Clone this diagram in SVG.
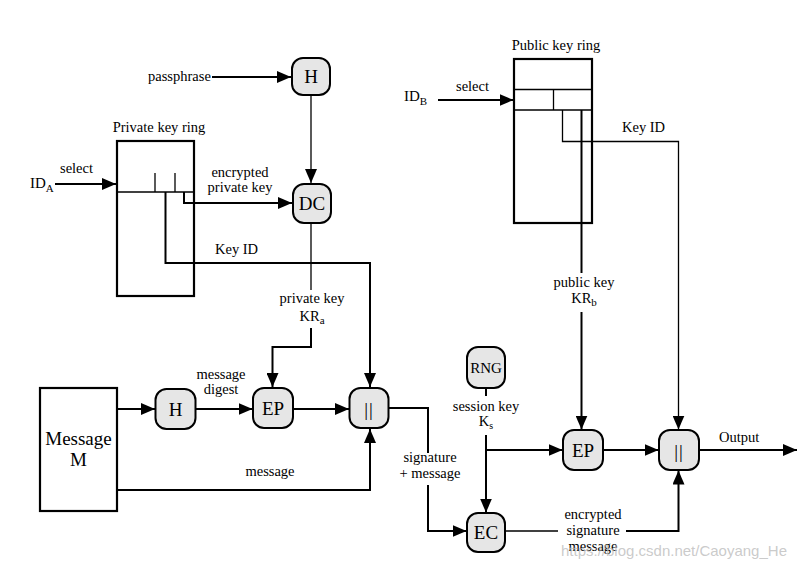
<svg xmlns="http://www.w3.org/2000/svg" width="809" height="569" viewBox="0 0 809 569">
<style>
text{font-family:'Liberation Serif','DejaVu Serif',serif;fill:#000}
.lbl{font-size:14.5px}
.nl{font-size:19px;text-anchor:middle}
.node{fill:#e6e6e6;stroke:#000;stroke-width:2}
.box{fill:#fff;stroke:#000;stroke-width:2.2}
.c{fill:none;stroke:#000;stroke-width:2}
.t{fill:none;stroke:#000;stroke-width:1.3}
.mid{text-anchor:middle}
.wm{font-family:'Liberation Sans','DejaVu Sans',sans-serif;font-size:15px;fill:#bdbdbd;fill-opacity:0.8}
</style>
<defs>
<marker id="ah" markerUnits="userSpaceOnUse" markerWidth="14" markerHeight="12" refX="14" refY="6" orient="auto">
<path d="M0,0 L14,6 L0,12 z" fill="#000"/>
</marker>
</defs>
<rect width="809" height="569" fill="#fff"/>

<g id="private-key-ring">
<rect class="box" x="117" y="141" width="77" height="155"/>
<line x1="117" y1="192" x2="194" y2="192" stroke="#000" stroke-width="1.3"/>
<line x1="155" y1="173" x2="155" y2="192" stroke="#000" stroke-width="1.3"/>
<line x1="175" y1="173" x2="175" y2="192" stroke="#000" stroke-width="1.3"/>
<text class="lbl mid" x="159" y="132" font-family="Liberation Serif, serif">Private key ring</text>
</g>

<g id="public-key-ring">
<rect class="box" x="514" y="59" width="78" height="164"/>
<line x1="514" y1="89.5" x2="592" y2="89.5" stroke="#000" stroke-width="1.3"/>
<line x1="514" y1="110" x2="592" y2="110" stroke="#000" stroke-width="1.3"/>
<line x1="553.5" y1="89.5" x2="553.5" y2="110" stroke="#000" stroke-width="1.3"/>
<text class="lbl mid" x="556" y="50">Public key ring</text>
</g>

<g id="message-M">
<rect class="box" x="40" y="388" width="77" height="123"/>
<text class="nl" x="78.5" y="445">Message</text>
<text class="nl" x="78.5" y="466">M</text>
</g>

<g id="H1"><rect class="node" x="292" y="58" width="38" height="37" rx="11"/><text class="nl" x="311" y="83">H</text></g>
<g id="DC"><rect class="node" x="293" y="184" width="38" height="39" rx="11"/><text class="nl" x="312" y="210">DC</text></g>
<g id="H2"><rect class="node" x="155.5" y="389" width="40" height="40" rx="11"/><text class="nl" x="175.5" y="416">H</text></g>
<g id="EP1"><rect class="node" x="253" y="388" width="40" height="40" rx="11"/><text class="nl" x="273" y="415">EP</text></g>
<g id="concat1"><rect class="node" x="349.5" y="388" width="39" height="40" rx="11"/><text class="nl" x="369" y="416" letter-spacing="1">||</text></g>
<g id="RNG"><rect class="node" x="467" y="347" width="38" height="41" rx="11"/><text class="mid" x="486" y="373" font-size="15">RNG</text></g>
<g id="EP2"><rect class="node" x="563" y="430" width="40" height="40" rx="11"/><text class="nl" x="583" y="457">EP</text></g>
<g id="concat2"><rect class="node" x="659" y="430" width="40" height="40" rx="11"/><text class="nl" x="679" y="458" letter-spacing="1">||</text></g>
<g id="EC"><rect class="node" x="467" y="513" width="38" height="39" rx="11"/><text class="nl" x="486" y="539">EC</text></g>

<g id="connectors">
<path class="c" d="M212,77 H291" marker-end="url(#ah)"/>
<path class="t" d="M311,95 V183" marker-end="url(#ah)"/>
<path class="c" d="M55,184 H116" marker-end="url(#ah)"/>
<path class="c" d="M184,192 V203 H292" marker-end="url(#ah)"/>
<path class="c" d="M165.5,192 V263 H370 V387" marker-end="url(#ah)"/>
<path class="t" d="M311,223 V290"/>
<path class="c" d="M311,328 V347 H272.5 V387" stroke-width="1.6" marker-end="url(#ah)"/>
<path class="c" d="M117,409 H155" marker-end="url(#ah)"/>
<path class="c" d="M195.5,409 H252.5" marker-end="url(#ah)"/>
<path class="c" d="M293,409 H349" marker-end="url(#ah)"/>
<path class="c" d="M117,490 H370 V429" marker-end="url(#ah)"/>
<path class="c" d="M388.5,408 H428 V453"/>
<path class="c" d="M428,485 V531 H466.5" marker-end="url(#ah)"/>
<path class="c" d="M438,100 H513.5" marker-end="url(#ah)"/>
<path class="t" d="M562.5,110 V141.5 H678.5 V429.5" stroke-width="1.6" marker-end="url(#ah)"/>
<path class="c" d="M581.5,110 V273"/>
<path class="c" d="M581.5,312 V429.5" marker-end="url(#ah)"/>
<path class="c" d="M486,388 V396"/>
<path class="c" d="M486,435 V512.5" marker-end="url(#ah)"/>
<path class="c" d="M486,450 H562.5" marker-end="url(#ah)"/>
<path class="c" d="M603,450 H658.5" marker-end="url(#ah)"/>
<path class="c" d="M699,450 H797" marker-end="url(#ah)"/>
<path class="t" d="M505,531 H558"/>
<path class="c" d="M626,531 H678.5 V470.5" marker-end="url(#ah)"/>
</g>

<g id="labels" class="lbl">
<text x="148" y="81">passphrase</text>
<text x="30" y="188" font-size="15">ID<tspan font-size="11" dy="4">A</tspan></text>
<text x="60" y="173">select</text>
<text class="mid" x="240" y="177">encrypted</text>
<text class="mid" x="240" y="192">private key</text>
<text x="215" y="254">Key ID</text>
<text class="mid" x="312" y="303">private key</text>
<text class="mid" x="312" y="321">KR<tspan font-size="11" dy="3">a</tspan></text>
<text class="mid" x="221" y="379">message</text>
<text class="mid" x="221" y="394">digest</text>
<text class="mid" x="270" y="476">message</text>
<text class="mid" x="430" y="462">signature</text>
<text class="mid" x="430" y="478">+ message</text>
<text x="404" y="101" font-size="15">ID<tspan font-size="11" dy="4">B</tspan></text>
<text x="456" y="91">select</text>
<text x="622" y="132">Key ID</text>
<text class="mid" x="584" y="287">public key</text>
<text class="mid" x="584" y="303">KR<tspan font-size="11" dy="3">b</tspan></text>
<text class="mid" x="486" y="411">session key</text>
<text class="mid" x="486" y="426">K<tspan font-size="10" dy="3">s</tspan></text>
<text x="719" y="442">Output</text>
<text class="mid" x="593" y="519">encrypted</text>
<text class="mid" x="593" y="535">signature</text>
<text class="mid" x="593" y="551">message</text>
</g>
<text class="wm" x="561" y="556">https://blog.csdn.net/Caoyang_He</text>
</svg>
